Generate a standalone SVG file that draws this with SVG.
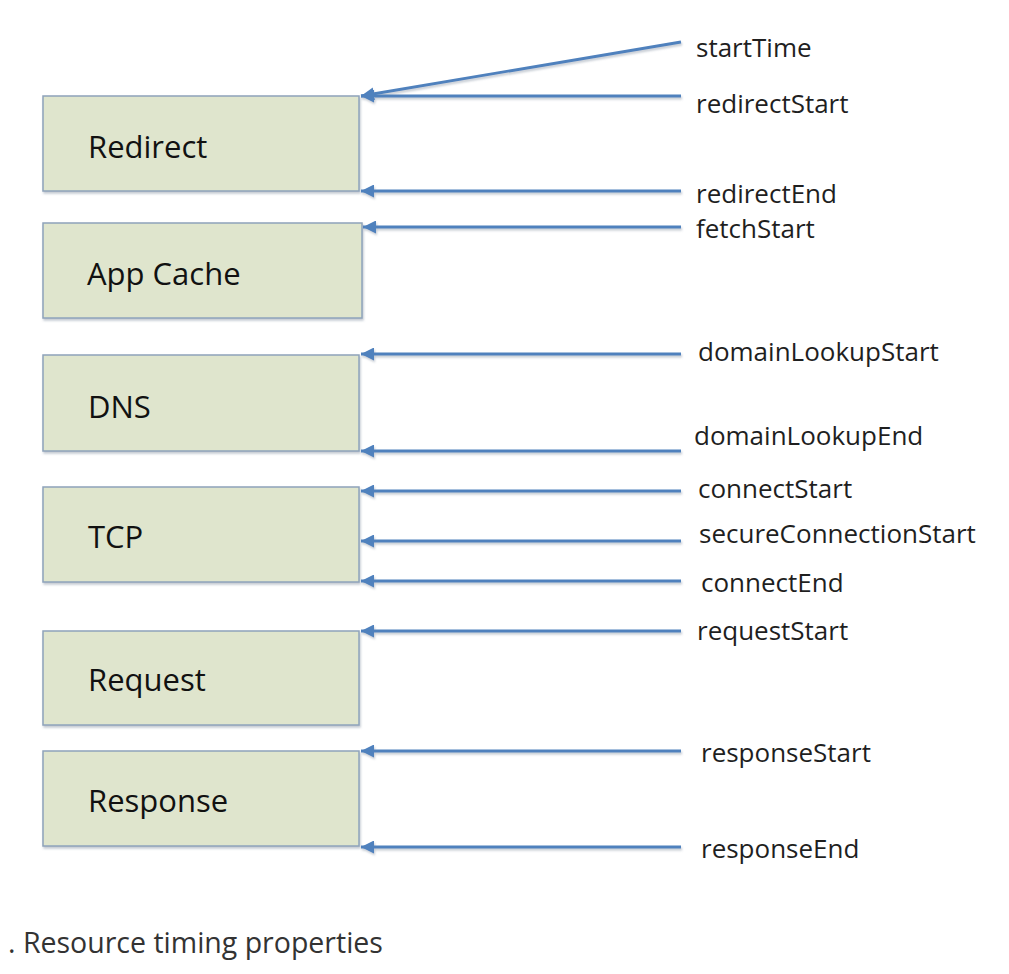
<svg xmlns="http://www.w3.org/2000/svg" width="1009" height="974" viewBox="0 0 1009 974">
  <style>
    .box { fill: #dfe5cd; stroke: #8ea3bb; stroke-width: 1.5; }
    .boxlabel { font-family: "Open Sans", "Liberation Sans", sans-serif; font-size: 31px; fill: #111111; }
    .label { font-family: "Open Sans", "Liberation Sans", sans-serif; font-size: 26px; fill: #1f1f1f; }
    .conn { stroke: #4f81bd; stroke-width: 2.8; fill: none; marker-end: url(#arrow); }
    .caption { font-family: "Open Sans", "Liberation Sans", sans-serif; font-size: 28.5px; fill: #333333; }
  </style>
  <defs>
    <marker id="arrow" markerUnits="userSpaceOnUse" markerWidth="14" markerHeight="13" refX="13" refY="6.5" orient="auto">
      <path d="M0,0 L13,6.5 L0,13 z" fill="#4f81bd"/>
    </marker>
    <filter id="shadow" x="-5%" y="-20%" width="110%" height="140%">
      <feDropShadow dx="1" dy="2" stdDeviation="1.2" flood-color="#7a8a9c" flood-opacity="0.45"/>
    </filter>
  </defs>
  <rect width="1009" height="974" fill="#ffffff"/>

  <g id="node-redirect">
    <rect class="box" x="43" y="96" width="316" height="95" filter="url(#shadow)"/>
    <text class="boxlabel" x="88" y="158">Redirect</text>
  </g>
  <g id="node-appcache">
    <rect class="box" x="43" y="223" width="319" height="95" filter="url(#shadow)"/>
    <text class="boxlabel" x="87" y="285">App Cache</text>
  </g>
  <g id="node-dns">
    <rect class="box" x="43" y="355" width="316" height="96" filter="url(#shadow)"/>
    <text class="boxlabel" x="88" y="418">DNS</text>
  </g>
  <g id="node-tcp">
    <rect class="box" x="43" y="487" width="316" height="95" filter="url(#shadow)"/>
    <text class="boxlabel" x="88" y="548">TCP</text>
  </g>
  <g id="node-request">
    <rect class="box" x="43" y="631" width="316" height="94" filter="url(#shadow)"/>
    <text class="boxlabel" x="88" y="691">Request</text>
  </g>
  <g id="node-response">
    <rect class="box" x="43" y="751" width="316" height="95" filter="url(#shadow)"/>
    <text class="boxlabel" x="88" y="812">Response</text>
  </g>

  <g id="connectors" filter="url(#shadow)">
    <line class="conn" x1="681" y1="42" x2="361" y2="96"/>
    <line class="conn" x1="681" y1="96" x2="361" y2="96"/>
    <line class="conn" x1="681" y1="191" x2="361" y2="191"/>
    <line class="conn" x1="681" y1="227" x2="363" y2="227"/>
    <line class="conn" x1="681" y1="354" x2="361" y2="354"/>
    <line class="conn" x1="681" y1="451" x2="361" y2="451"/>
    <line class="conn" x1="681" y1="491" x2="361" y2="491"/>
    <line class="conn" x1="681" y1="541" x2="361" y2="541"/>
    <line class="conn" x1="681" y1="581" x2="361" y2="581"/>
    <line class="conn" x1="681" y1="631" x2="361" y2="631"/>
    <line class="conn" x1="681" y1="751" x2="361" y2="751"/>
    <line class="conn" x1="681" y1="847" x2="361" y2="847"/>
  </g>

  <g id="labels">
    <text class="label" x="696" y="57">startTime</text>
    <text class="label" x="696" y="113">redirectStart</text>
    <text class="label" x="696" y="203">redirectEnd</text>
    <text class="label" x="696" y="238">fetchStart</text>
    <text class="label" x="698" y="361">domainLookupStart</text>
    <text class="label" x="694" y="445">domainLookupEnd</text>
    <text class="label" x="698" y="498">connectStart</text>
    <text class="label" x="699" y="543">secureConnectionStart</text>
    <text class="label" x="701" y="592">connectEnd</text>
    <text class="label" x="697" y="640">requestStart</text>
    <text class="label" x="701" y="762">responseStart</text>
    <text class="label" x="701" y="858">responseEnd</text>
  </g>

  <text class="caption" x="8" y="953">. Resource timing properties</text>
</svg>
